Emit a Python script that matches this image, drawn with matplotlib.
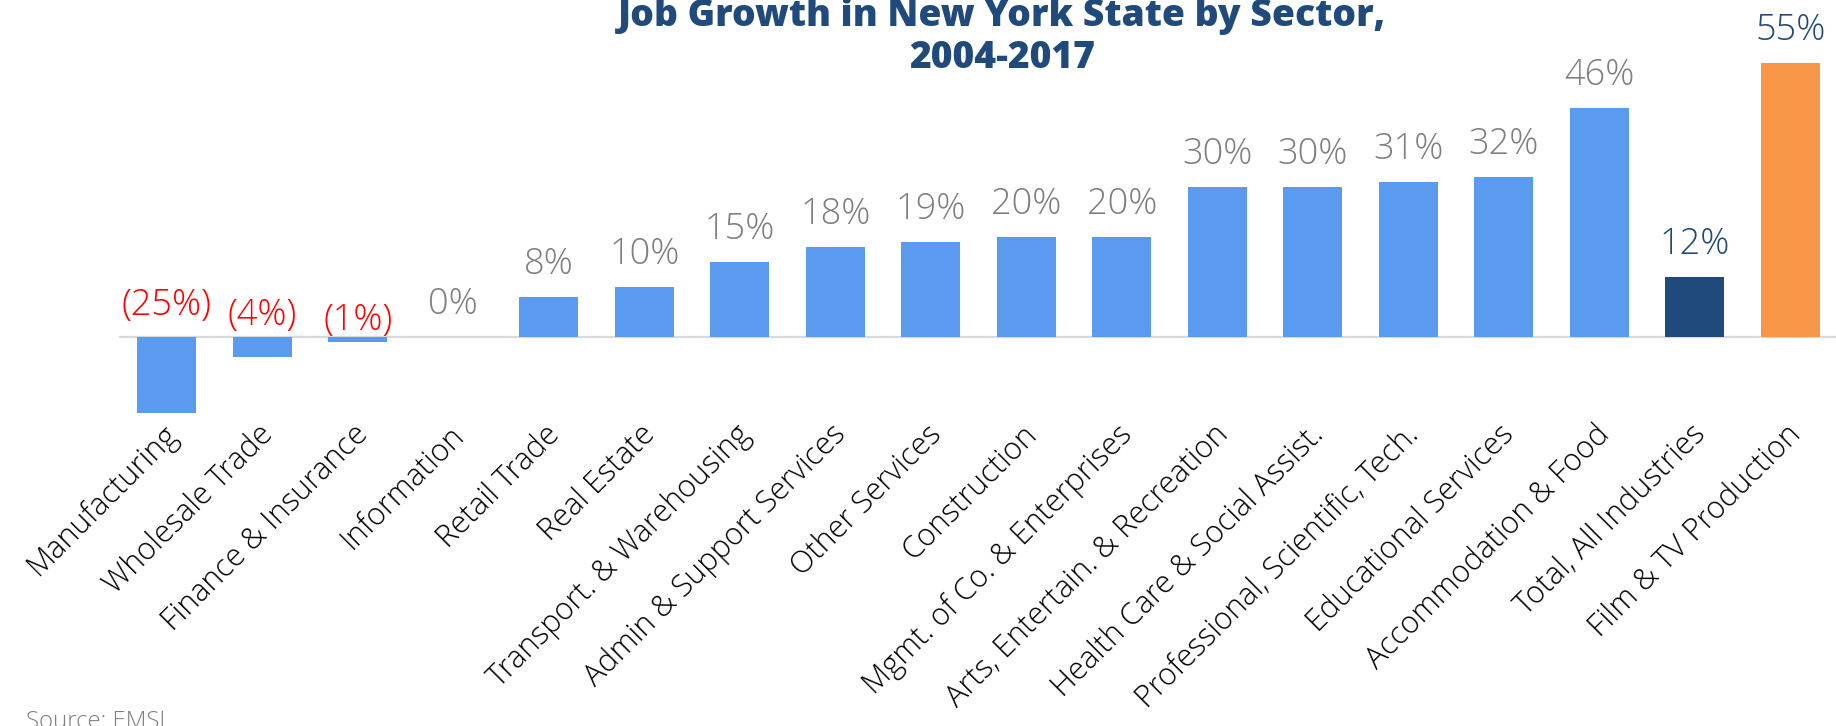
import matplotlib
matplotlib.use("Agg")
import matplotlib.pyplot as plt
from matplotlib.transforms import ScaledTranslation

# Job growth by sector, New York State, 2004-2017 (percent change)
sectors = [
    "Manufacturing", "Wholesale Trade", "Finance & Insurance", "Information",
    "Retail Trade", "Real Estate", "Transport. & Warehousing",
    "Admin & Support Services", "Other Services", "Construction",
    "Mgmt. of Co. & Enterprises", "Arts, Entertain. & Recreation",
    "Health Care & Social Assist.", "Professional, Scientific, Tech.",
    "Educational Services", "Accommodation & Food", "Total, All Industries",
    "Film & TV Production",
]
growth_pct = [-25, -4, -1, 0, 8, 10, 15, 18, 19, 20, 20, 30, 30, 31, 32, 46, 12, 55]

title_lines = ["Job Growth in New York State by Sector,", "2004-2017"]
source_note = "Source: EMSI"

SECTOR_BLUE = "#5B9BEF"
NAVY = "#214A7C"
ORANGE = "#F79646"
GRAY_LABEL = "#7F7F7F"
RED = "#FF0000"

FONT = ["Open Sans", "DejaVu Sans"]

fig = plt.figure(figsize=(18.36, 7.26), dpi=100)
ax = fig.add_axes([0.0648, 0.4307, 0.9363, 0.5171])

colors = [SECTOR_BLUE] * len(sectors)
colors[sectors.index("Total, All Industries")] = NAVY
colors[sectors.index("Film & TV Production")] = ORANGE

x = list(range(len(sectors)))
ax.bar(x, growth_pct, width=0.62, color=colors, zorder=2)
ax.axhline(0, color="#D9D9D9", lw=1.6, zorder=1)

ax.set_xlim(-0.5, len(sectors) - 0.5)
ax.set_ylim(-15.4, 60)
for s in ax.spines.values():
    s.set_visible(False)
ax.set_yticks([])
ax.set_xticks(x)
ax.set_xticklabels(sectors, rotation=45, ha="right", va="top",
                   rotation_mode="anchor", fontsize=22, family=FONT,
                   fontweight="light", color="black")
ax.tick_params(axis="x", length=0, pad=4)
# nudge the slanted category labels slightly to the left
nudge = ScaledTranslation(-5 / 100, 0, fig.dpi_scale_trans)
for lbl in ax.get_xticklabels():
    lbl.set_transform(lbl.get_transform() + nudge)

# value labels; labels of negative bars sit just above the zero line
neg_offsets = {-25: 22, -4: 12, -1: 7}
for xi, v, c in zip(x, growth_pct, colors):
    if v < 0:
        txt, col, base, off = f"({abs(v)}%)", RED, 0, neg_offsets.get(v, 10)
    else:
        txt, base, off = f"{v}%", v, 23
        col = NAVY if c in (NAVY, ORANGE) else GRAY_LABEL
    ax.annotate(txt, (xi, base), xytext=(0, off), textcoords="offset pixels",
                ha="center", va="baseline", fontsize=26, color=col,
                family=FONT, fontweight="light", annotation_clip=False)

fig.text(0.546, 1 - 26 / 726, title_lines[0], ha="center", va="baseline",
         fontsize=26.8, fontweight=800, color=NAVY, family=FONT)
fig.text(0.546, 1 - 68 / 726, title_lines[1], ha="center", va="baseline",
         fontsize=26.8, fontweight=800, color=NAVY, family=FONT)

fig.text(26 / 1836, 1 - 728 / 726, source_note, ha="left", va="baseline",
         fontsize=17.3, color=GRAY_LABEL, family=FONT, fontweight="light")

fig.savefig("out.png", dpi=100)
